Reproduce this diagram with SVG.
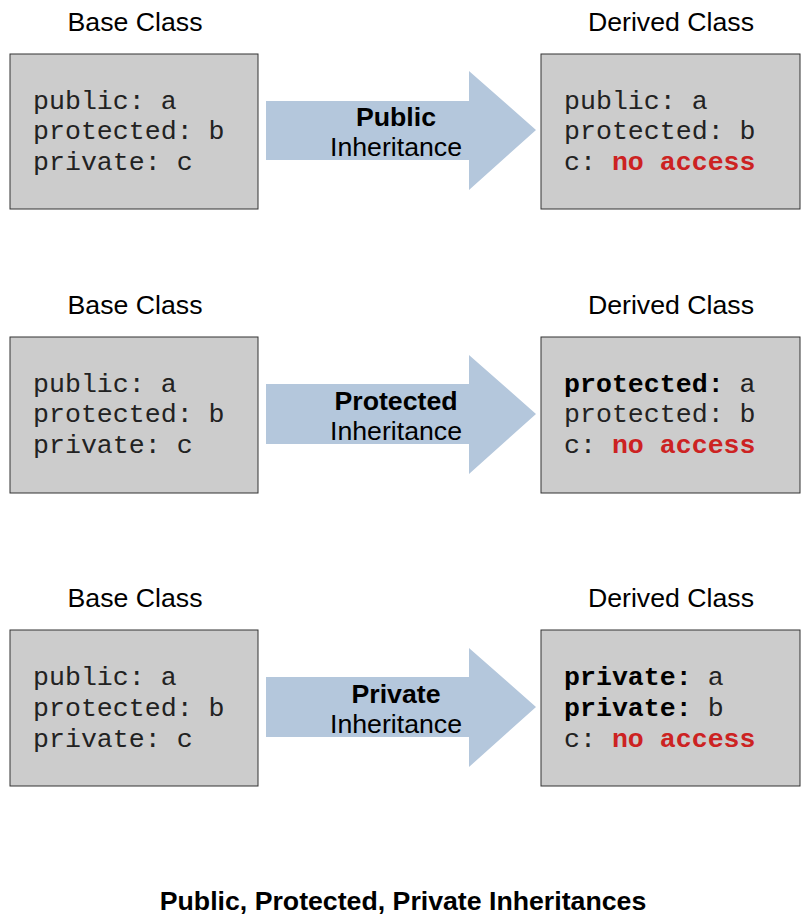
<svg xmlns="http://www.w3.org/2000/svg" width="808" height="923" viewBox="0 0 808 923">
<style>
.box{fill:#cccccc;stroke:#333333;stroke-width:1}
.arrow{fill:#b4c7dc}
.lbl{font-family:"Liberation Sans",Arial,sans-serif;font-size:26.7px;fill:#000;text-anchor:middle}
.bold{font-weight:bold}
.mono{font-family:"Liberation Mono","Courier New",monospace;font-size:26.6px;fill:#222}
.red{fill:#cc2222;font-weight:bold}
.b{font-weight:bold;fill:#000}
</style>
<rect width="808" height="923" fill="#ffffff"/>
<g id="row1">
 <g id="base1">
  <text class="lbl" x="135" y="31">Base Class</text>
  <rect class="box" x="10" y="54" width="248" height="155"/>
  <text class="mono" x="33" y="109">public: a</text>
  <text class="mono" x="33" y="139">protected: b</text>
  <text class="mono" x="33" y="170">private: c</text>
 </g>
 <g id="derived1">
  <text class="lbl" x="671" y="31">Derived Class</text>
  <rect class="box" x="541" y="54" width="259" height="155"/>
  <text class="mono" x="564" y="109">public: a</text>
  <text class="mono" x="564" y="139">protected: b</text>
  <text class="mono" x="564" y="170">c: <tspan class="red">no access</tspan></text>
 </g>
</g>
<g id="row2">
 <g id="base2">
  <text class="lbl" x="135" y="314">Base Class</text>
  <rect class="box" x="10" y="337" width="248" height="156"/>
  <text class="mono" x="33" y="392">public: a</text>
  <text class="mono" x="33" y="422">protected: b</text>
  <text class="mono" x="33" y="453">private: c</text>
 </g>
 <g id="derived2">
  <text class="lbl" x="671" y="314">Derived Class</text>
  <rect class="box" x="541" y="337" width="259" height="156"/>
  <text class="mono" x="564" y="392"><tspan class="b">protected:</tspan> a</text>
  <text class="mono" x="564" y="422">protected: b</text>
  <text class="mono" x="564" y="453">c: <tspan class="red">no access</tspan></text>
 </g>
</g>
<g id="row3">
 <g id="base3">
  <text class="lbl" x="135" y="607">Base Class</text>
  <rect class="box" x="10" y="630" width="248" height="156"/>
  <text class="mono" x="33" y="685">public: a</text>
  <text class="mono" x="33" y="716">protected: b</text>
  <text class="mono" x="33" y="747">private: c</text>
 </g>
 <g id="derived3">
  <text class="lbl" x="671" y="607">Derived Class</text>
  <rect class="box" x="541" y="630" width="259" height="156"/>
  <text class="mono" x="564" y="685"><tspan class="b">private:</tspan> a</text>
  <text class="mono" x="564" y="716"><tspan class="b">private:</tspan> b</text>
  <text class="mono" x="564" y="747">c: <tspan class="red">no access</tspan></text>
 </g>
</g>
<g id="connectors">
 <g id="arrow1">
  <polygon class="arrow" points="266,101 469,101 469,71 536,130 469,190 469,160 266,160"/>
  <text class="lbl bold" x="396" y="126">Public</text>
  <text class="lbl" x="396" y="156">Inheritance</text>
 </g>
 <g id="arrow2">
  <polygon class="arrow" points="266,384 469,384 469,355 536,414 469,474 469,444 266,444"/>
  <text class="lbl bold" x="396" y="410">Protected</text>
  <text class="lbl" x="396" y="440">Inheritance</text>
 </g>
 <g id="arrow3">
  <polygon class="arrow" points="266,677 469,677 469,648 536,707 469,767 469,737 266,737"/>
  <text class="lbl bold" x="396" y="703">Private</text>
  <text class="lbl" x="396" y="733">Inheritance</text>
 </g>
</g>
<text class="lbl bold" x="403" y="910">Public, Protected, Private Inheritances</text>
</svg>
